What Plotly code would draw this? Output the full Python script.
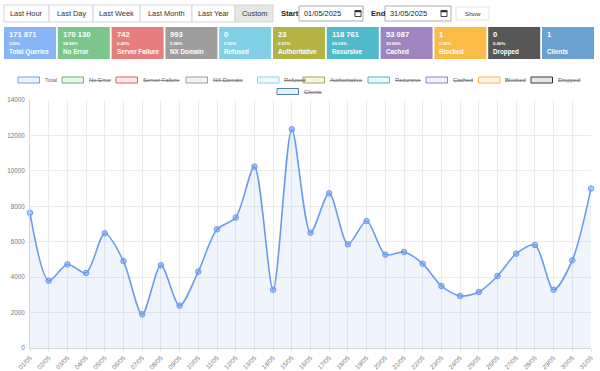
import plotly.graph_objects as go

# ---------------- data ----------------
dates = ["01/05", "02/05", "03/05", "04/05", "05/05", "06/05", "07/05", "08/05", "09/05", "10/05",
         "11/05", "12/05", "13/05", "14/05", "15/05", "16/05", "17/05", "18/05", "19/05", "20/05",
         "21/05", "22/05", "23/05", "24/05", "25/05", "26/05", "27/05", "28/05", "29/05", "30/05", "31/05"]
total = [7630, 3800, 4725, 4235, 6475, 4910, 1900, 4670, 2390, 4310,
         6700, 7360, 10240, 3290, 12350, 6510, 8735, 5855, 7170, 5270,
         5420, 4760, 3500, 2935, 3160, 4065, 5325, 5815, 3290, 4950, 9000]

period_buttons = ["Last Hour", "Last Day", "Last Week", "Last Month", "Last Year", "Custom"]
start_date = "01/05/2025"
end_date = "31/05/2025"

stat_values = ["171 871", "170 130", "742", "993", "0", "23", "118 761", "53 087", "1", "0", "1"]
stat_pcts = ["100%", "98.99%", "0.43%", "0.58%", "0.00%", "0.01%", "69.10%", "30.89%", "0.00%", "0.00%", ""]
stat_labels = ["Total Queries", "No Error", "Server Failure", "NX Domain", "Refused", "Authoritative",
               "Recursive", "Cached", "Blocked", "Dropped", "Clients"]
stat_colors = ["#8ab4f8", "#7cc68c", "#e67e7e", "#9e9e9e", "#82d0e6", "#b3b444", "#50bacb",
               "#9d86c0", "#fbbb47", "#575757", "#6aa1d1"]

legend_names = ["Total", "No Error", "Server Failure", "NX Domain", "Refused", "Authoritative",
                "Recursive", "Cached", "Blocked", "Dropped", "Clients"]
legend_colors = ["#6d9eeb", "#5cb85c", "#e05c5c", "#9a9a9a", "#86d3e8", "#a9a83c", "#45b3c4",
                 "#8f7bbd", "#f8b53c", "#333333", "#4c7fb6"]
legend_hidden = [False, True, True, True, True, True, True, True, True, True, True]

# ---------------- layout helpers ----------------
W, H = 600, 371
PL, PR, PT, PB = 30, 591, 100, 348  # plot area in pixels
FONT = "Liberation Sans, Arial, Helvetica, sans-serif"


def px(x):
    return (x - PL) / (PR - PL)


def py(y):
    return (PB - y) / (PB - PT)


shapes = []
annotations = []


def rect(x0, y0, x1, y1, fill, line="rgba(0,0,0,0)", lw=1):
    shapes.append(dict(type="rect", xref="paper", yref="paper", x0=px(x0), x1=px(x1),
                       y0=py(y1), y1=py(y0), fillcolor=fill, line=dict(color=line, width=lw),
                       layer="above"))


def text(x, y, s, size, color="#333", bold=False, xanchor="left"):
    if bold:
        s = "<b>" + s + "</b>"
    annotations.append(dict(xref="paper", yref="paper", x=px(x), y=py(y), text=s, showarrow=False,
                            xanchor=xanchor, yanchor="middle", font=dict(family=FONT, size=size, color=color)))


# buttons row
btn_edges = [4, 49, 93, 140, 192, 235, 273]
for i, name in enumerate(period_buttons):
    x0, x1 = btn_edges[i], btn_edges[i + 1]
    fill = "#e6e6e6" if name == "Custom" else "#ffffff"
    rect(x0, 5, x1, 22, fill, "#cccccc", 0.8)
    text((x0 + x1) / 2, 13.5, name, 7.4, "#333", xanchor="center")

text(279, 13.5, "Start", 7.6, "#222", bold=True)
rect(299, 6, 363, 21, "#ffffff", "#999999", 0.8)
text(302, 13.5, start_date, 7.4, "#222")
text(369, 13.5, "End", 7.6, "#222", bold=True)
rect(385, 6, 451, 21, "#ffffff", "#999999", 0.8)
text(388, 13.5, end_date, 7.4, "#222")
for cx in (358, 444):
    rect(cx - 3, 10.5, cx + 3, 16.5, "#ffffff", "#333333", 0.9)
    rect(cx - 3, 10.5, cx + 3, 12, "#333333", "#333333", 0.5)
rect(456, 7, 489, 20, "#ffffff", "#dddddd", 0.8)
text(472.5, 13.5, "Show", 6.2, "#333", xanchor="center")

# stat boxes
for i in range(len(stat_values)):
    x0 = 4 + 53.8 * i
    x1 = x0 + 52
    rect(x0, 27, x1, 59, stat_colors[i])
    text(x0 + 3, 34.3, stat_values[i], 7.6, "#ffffff", bold=True)
    if stat_pcts[i]:
        text(x0 + 3, 43.3, stat_pcts[i], 4.4, "#ffffff", bold=True)
    text(x0 + 3, 51.8, stat_labels[i], 6.3, "#ffffff", bold=True)

# legend (custom, chart.js style)
leg_box_x = [18, 62, 116, 186, 257.5, 303, 368, 426, 478.5, 531, 277]
leg_y = [80, 80, 80, 80, 80, 80, 80, 80, 80, 80, 91.5]
for i, name in enumerate(legend_names):
    bx, cy = leg_box_x[i], leg_y[i]
    col = legend_colors[i]
    rect(bx, cy - 3, bx + 21.5, cy + 3, "rgba(255,255,255,1)", col, 1)
    r, g, b = int(col[1:3], 16), int(col[3:5], 16), int(col[5:7], 16)
    rect(bx + 0.6, cy - 2.4, bx + 20.9, cy + 2.4, "rgba(%d,%d,%d,0.12)" % (r, g, b), "rgba(0,0,0,0)", 0)
    label = "<s>" + name + "</s>" if legend_hidden[i] else name
    text(bx + 24.5, cy, label, 5.8, "#666666")

# ---------------- figure ----------------
fig = go.Figure()
fig.add_trace(go.Scatter(
    x=dates, y=total, mode="lines+markers", name="Total",
    line=dict(color="#6a9bef", width=1.6, shape="spline", smoothing=0.8),
    marker=dict(size=5.5, color="rgba(106,155,239,0.55)", line=dict(color="#6a9bef", width=1)),
    fill="tozeroy", fillcolor="rgba(106,155,239,0.11)", cliponaxis=False, showlegend=False,
))

fig.update_layout(
    width=W, height=H,
    margin=dict(l=PL, r=W - PR, t=PT, b=H - PB, autoexpand=False),
    paper_bgcolor="#ffffff", plot_bgcolor="#ffffff",
    showlegend=False,
    shapes=shapes, annotations=annotations,
    font=dict(family=FONT, color="#666666"),
)
fig.update_xaxes(
    type="category", range=[0, len(dates) - 1], showgrid=True, gridcolor="#ebebeb", gridwidth=1,
    tickangle=-45, tickfont=dict(size=6.3, color="#777777", family=FONT),
    showline=True, linecolor="#d6d6d6", linewidth=1, ticks="outside", ticklen=3, tickcolor="#e6e6e6",
    automargin=False, zeroline=False, fixedrange=True,
)
fig.update_yaxes(
    range=[0, 14000], dtick=2000, showgrid=True, gridcolor="#ebebeb", gridwidth=1,
    tickfont=dict(size=6.3, color="#777777", family=FONT), tickformat="d",
    showline=True, linecolor="#d6d6d6", linewidth=1, ticks="outside", ticklen=3, tickcolor="#ffffff",
    automargin=False, zeroline=False, fixedrange=True,
)

fig.write_html("out.html", config={"displayModeBar": False},
               post_script="document.body.style.margin='0';")
